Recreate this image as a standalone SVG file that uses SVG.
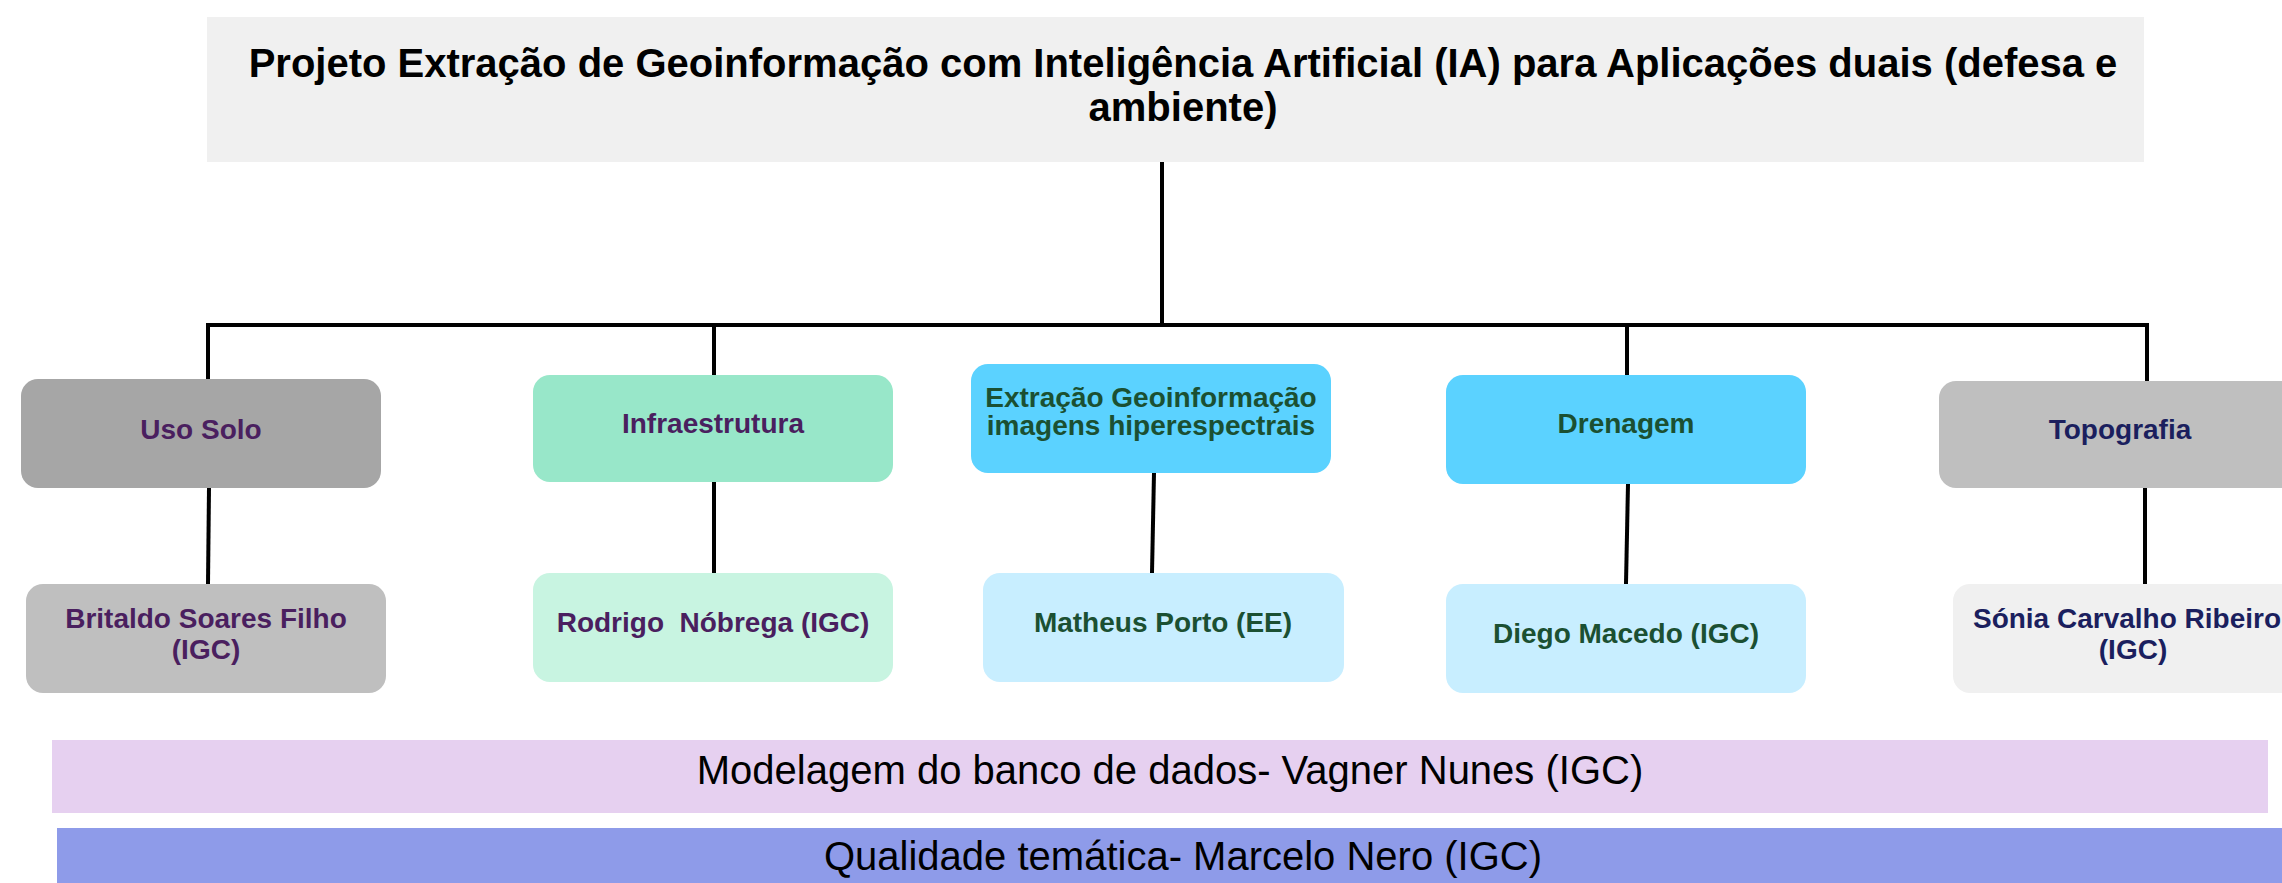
<svg xmlns="http://www.w3.org/2000/svg" width="2282" height="883" viewBox="0 0 2282 883">
<style>
.t{font-family:"Liberation Sans",Arial,sans-serif;text-anchor:middle}
.h{font-size:40px;font-weight:bold;fill:#000}
.n{font-size:28px;font-weight:bold}
.b{font-size:40px;fill:#000}
.pu{fill:#4a1f5f}
.gr{fill:#1b5032}
.nv{fill:#1b1f5e}
.c{stroke:#000;stroke-width:4;fill:none}
</style>
<rect width="2282" height="883" fill="#fff"/>
<g id="connectors">
<line class="c" x1="1162" y1="162" x2="1162" y2="325"/>
<polyline class="c" points="208,379 208,325 2147,325 2147,381" stroke-width="5"/>
<line class="c" x1="714" y1="325" x2="714" y2="375"/>
<line class="c" x1="1627" y1="325" x2="1627" y2="375"/>
<line class="c" x1="209" y1="488" x2="208" y2="584"/>
<line class="c" x1="714" y1="482" x2="714" y2="573"/>
<line class="c" x1="1154" y1="473" x2="1152" y2="573"/>
<line class="c" x1="1628" y1="484" x2="1626" y2="584"/>
<line class="c" x1="2145" y1="488" x2="2145" y2="584"/>
</g>
<g id="title">
<rect x="207" y="17" width="1937" height="145" fill="#f0f0f0"/>
<text class="t h" x="1183" y="77">Projeto Extração de Geoinformação com Inteligência Artificial (IA) para Aplicações duais (defesa e</text>
<text class="t h" x="1183" y="121">ambiente)</text>
</g>
<g id="uso-solo">
<rect x="21" y="379" width="360" height="109" rx="17" fill="#a6a6a6"/>
<text class="t n pu" x="201" y="439">Uso Solo</text>
</g>
<g id="infraestrutura">
<rect x="533" y="375" width="360" height="107" rx="17" fill="#98e7c9"/>
<text class="t n pu" x="713" y="433">Infraestrutura</text>
</g>
<g id="extracao">
<rect x="971" y="364" width="360" height="109" rx="17" fill="#5bd2ff"/>
<text class="t n gr" x="1151" y="407">Extração Geoinformação</text>
<text class="t n gr" x="1151" y="435">imagens hiperespectrais</text>
</g>
<g id="drenagem">
<rect x="1446" y="375" width="360" height="109" rx="17" fill="#5bd2ff"/>
<text class="t n gr" x="1626" y="433">Drenagem</text>
</g>
<g id="topografia">
<rect x="1939" y="381" width="362" height="107" rx="17" fill="#bfbfbf"/>
<text class="t n nv" x="2120" y="439">Topografia</text>
</g>
<g id="britaldo">
<rect x="26" y="584" width="360" height="109" rx="17" fill="#bfbfbf"/>
<text class="t n pu" x="206" y="628">Britaldo Soares Filho</text>
<text class="t n pu" x="206" y="659">(IGC)</text>
</g>
<g id="rodrigo">
<rect x="533" y="573" width="360" height="109" rx="17" fill="#c8f4e1"/>
<text class="t n pu" x="713" y="632" style="white-space:pre">Rodrigo  Nóbrega (IGC)</text>
</g>
<g id="matheus">
<rect x="983" y="573" width="361" height="109" rx="17" fill="#c8eeff"/>
<text class="t n gr" x="1163" y="632">Matheus Porto (EE)</text>
</g>
<g id="diego">
<rect x="1446" y="584" width="360" height="109" rx="17" fill="#c8eeff"/>
<text class="t n gr" x="1626" y="643">Diego Macedo (IGC)</text>
</g>
<g id="sonia">
<rect x="1953" y="584" width="360" height="109" rx="17" fill="#f0f0f0"/>
<text class="t n nv" x="2127" y="628">Sónia Carvalho Ribeiro</text>
<text class="t n nv" x="2133" y="659">(IGC)</text>
</g>
<g id="modelagem">
<rect x="52" y="740" width="2216" height="73" fill="#e6d0f0"/>
<text class="t b" x="1170" y="784">Modelagem do banco de dados- Vagner Nunes (IGC)</text>
</g>
<g id="qualidade">
<rect x="57" y="828" width="2225" height="55" fill="#8e9be9"/>
<text class="t b" x="1183" y="870">Qualidade temática- Marcelo Nero (IGC)</text>
</g>
</svg>
